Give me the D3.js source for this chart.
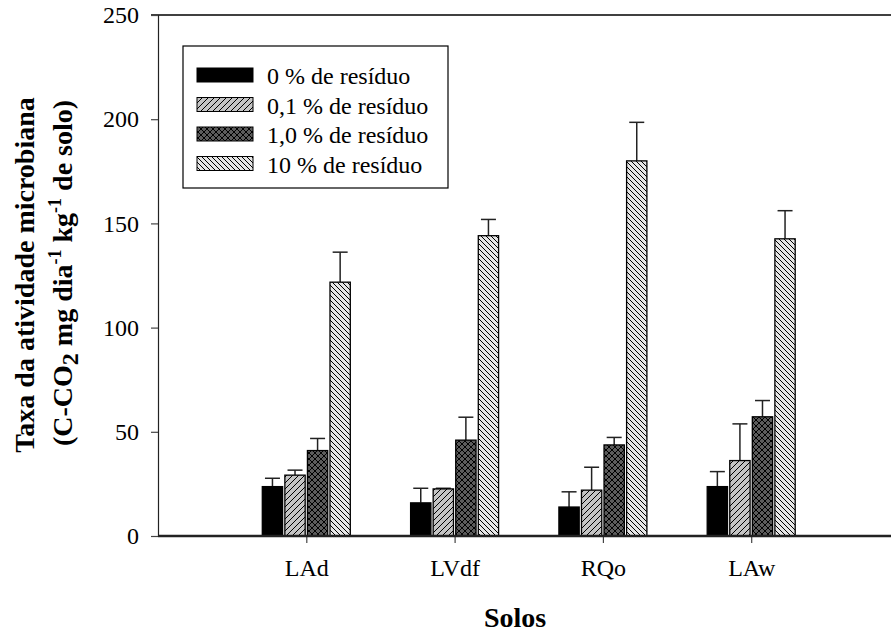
<!DOCTYPE html>
<html><head><meta charset="utf-8">
<script src="https://cdn.jsdelivr.net/npm/d3@7/dist/d3.min.js"></script>
<style>body{margin:0;background:#fff}svg{display:block}text{font-family:"Liberation Serif","Times New Roman",serif}</style>
</head><body><svg id="c" width="891" height="632"></svg>
<script>
const categories = ["LAd", "LVdf", "RQo", "LAw"];
const seriesNames = ["0 % de resíduo", "0,1 % de resíduo", "1,0 % de resíduo", "10 % de resíduo"];
const values0   = [23.7, 15.9, 13.9, 23.7];
const values01  = [29.2, 22.6, 22.0, 36.2];
const values10  = [41.0, 46.0, 43.7, 57.2];
const values100 = [121.8, 144.1, 180.0, 142.6];
const err0   = [4.0, 7.0, 7.3, 7.2];
const err01  = [2.4, 0.3, 11.0, 17.6];
const err10  = [5.8, 11.0, 3.6, 7.8];
const err100 = [14.4, 7.8, 18.5, 13.5];
const yTicks = [0, 50, 100, 150, 200, 250];

const allValues = [values0, values01, values10, values100];
const allErr = [err0, err01, err10, err100];

const svg = d3.select("#c");
const defs = svg.append("defs");

// patterns
function pat(id, bg, size, lines) {
  const p = defs.append("pattern").attr("id", id).attr("patternUnits", "userSpaceOnUse")
    .attr("width", size).attr("height", size);
  p.append("rect").attr("width", size).attr("height", size).attr("fill", bg);
  lines.forEach(d => p.append("path").attr("d", d).attr("stroke", "#000").attr("stroke-width", 1).attr("fill", "none"));
}
pat("p01", "#c4c4c4", 6, ["M0,6 L6,0", "M-1,1 L1,-1", "M5,7 L7,5"]);
pat("p10", "#5c5c5c", 6, ["M0,6 L6,0", "M-1,1 L1,-1", "M5,7 L7,5", "M0,0 L6,6", "M-1,5 L1,7", "M5,-1 L7,1"]);
pat("p100", "#e6e6e6", 5, ["M0,0 L5,5", "M-1,4 L1,6", "M4,-1 L6,1"]);
const fills = ["#000", "url(#p01)", "url(#p10)", "url(#p100)"];

const x = d3.scaleLinear().domain([0, 5]).range([158, 899.5]);
const y = d3.scaleLinear().domain([0, 250]).range([536, 15]);
const inner = d3.scaleBand().domain(d3.range(4)).range([-44, 44]).paddingInner(0.1);

// top frame line
svg.append("line").attr("x1", 151).attr("x2", 891).attr("y1", y(250)).attr("y2", y(250))
  .attr("stroke", "#000").attr("stroke-width", 1.5);

// bars
categories.forEach((c, i) => {
  const cx = x(i + 1);
  allValues.forEach((vals, s) => {
    const bx = cx + inner(s);
    const bw = inner.bandwidth();
    // error bar
    const top = y(vals[i] + allErr[s][i]);
    svg.append("line").attr("x1", bx + bw / 2).attr("x2", bx + bw / 2)
      .attr("y1", y(vals[i])).attr("y2", top).attr("stroke", "#222").attr("stroke-width", 1.5);
    svg.append("line").attr("x1", bx + bw / 2 - 7.5).attr("x2", bx + bw / 2 + 7.5)
      .attr("y1", top).attr("y2", top).attr("stroke", "#222").attr("stroke-width", 1.5);
    svg.append("rect").attr("x", bx).attr("y", y(vals[i])).attr("width", bw)
      .attr("height", y(0) - y(vals[i])).attr("fill", fills[s])
      .attr("stroke", "#000").attr("stroke-width", 1.3);
  });
});

// y axis
const yAxis = svg.append("g").attr("transform", "translate(158,0)")
  .call(d3.axisLeft(y).tickValues(yTicks).tickSize(7).tickPadding(12));
yAxis.select(".domain").attr("stroke", "#222").attr("stroke-width", 1.2);
yAxis.selectAll(".tick line").attr("stroke", "#444").attr("stroke-width", 1.2);
yAxis.selectAll("text").attr("font-size", 24).attr("fill", "#000")
  .attr("font-family", "'Liberation Serif', serif");

// x axis
const xAxis = svg.append("g").attr("transform", "translate(0,536)")
  .call(d3.axisBottom(x).tickValues([1, 2, 3, 4]).tickFormat(d => categories[d - 1]).tickSize(7).tickPadding(16));
xAxis.select(".domain").remove();
xAxis.selectAll(".tick line").attr("stroke", "#444").attr("stroke-width", 1.2);
xAxis.selectAll("text").attr("font-size", 24).attr("fill", "#000")
  .attr("font-family", "'Liberation Serif', serif");
svg.append("line").attr("x1", 158).attr("x2", 891).attr("y1", 536).attr("y2", 536)
  .attr("stroke", "#222").attr("stroke-width", 2.5);

// x title
svg.append("text").attr("x", 515).attr("y", 627).attr("text-anchor", "middle")
  .attr("font-size", 28).attr("font-weight", "bold").text("Solos");

// y title
const yt = svg.append("text").attr("transform", "translate(34,275) rotate(-90)")
  .attr("text-anchor", "middle").attr("font-size", 28).attr("font-weight", "bold")
  .text("Taxa da atividade microbiana");
const yt2 = svg.append("text").attr("transform", "translate(72,273) rotate(-90)")
  .attr("text-anchor", "middle").attr("font-size", 28).attr("font-weight", "bold");
yt2.append("tspan").text("(C-CO");
yt2.append("tspan").attr("font-size", 24).attr("dy", 6).text("2");
yt2.append("tspan").attr("dy", -6).text(" mg dia");
yt2.append("tspan").attr("font-size", 18).attr("dy", -11).text("-1");
yt2.append("tspan").attr("dy", 11).text("  kg");
yt2.append("tspan").attr("font-size", 18).attr("dy", -11).text("-1");
yt2.append("tspan").attr("dy", 11).text(" de solo)");

// legend
const lg = svg.append("g");
lg.append("rect").attr("x", 183).attr("y", 46).attr("width", 265).attr("height", 142)
  .attr("fill", "#fff").attr("stroke", "#000").attr("stroke-width", 1.2);
seriesNames.forEach((n, s) => {
  const yy = 68 + s * 29.5;
  lg.append("rect").attr("x", 197).attr("y", yy).attr("width", 56).attr("height", 14)
    .attr("fill", fills[s]).attr("stroke", "#000").attr("stroke-width", 1);
  lg.append("text").attr("x", 267).attr("y", yy + 16).attr("font-size", 24).text(n);
});
</script></body></html>
